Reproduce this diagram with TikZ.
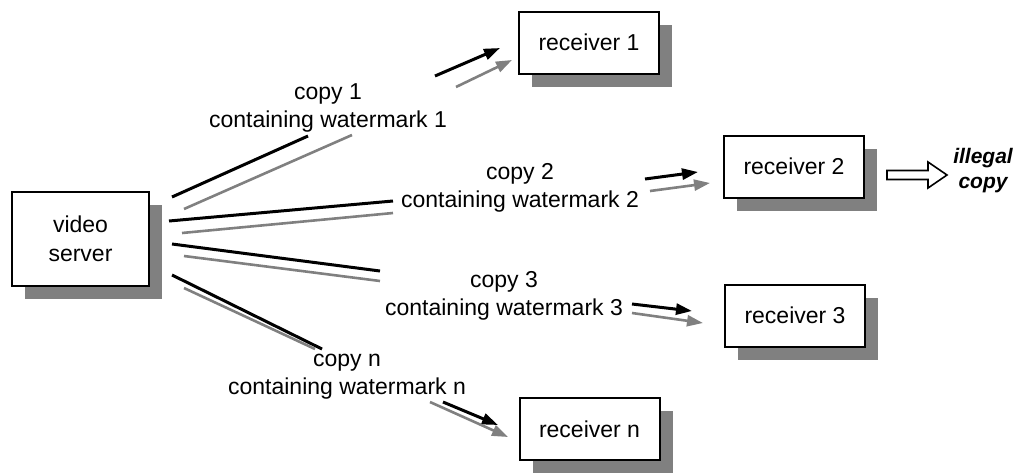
\documentclass[tikz,border=0pt]{standalone}
\usepackage{fontspec}
\setmainfont{Liberation Sans}
\usetikzlibrary{arrows.meta,shadows,calc}
\definecolor{shadowgray}{HTML}{808080}
\tikzset{
  box/.style={draw=black, line width=2pt, fill=white, minimum width=140pt, minimum height=62pt,
    inner sep=0pt, align=center, font=\fontsize{23}{29}\selectfont,
    drop shadow={shadow xshift=13pt, shadow yshift=-13pt, fill=shadowgray, opacity=1}},
  lbl/.style={align=center, font=\fontsize{23}{28}\selectfont, inner sep=0pt, anchor=base},
  blk/.style={line width=3pt, draw=black},
  gry/.style={line width=2.6pt, draw=shadowgray},
  tipk/.style={-{Triangle[length=16pt,width=11pt]}},
}
\begin{document}
\begin{tikzpicture}[x=1pt,y=-1pt]
\useasboundingbox (0,0) rectangle (1024,474);
% boxes
\node[box, minimum width=137pt, minimum height=94pt] (srv) at (80.5,239) {video\\server};
\node[box] (r1) at (589,42.5) {receiver 1};
\node[box] (r2) at (794,166.5) {receiver 2};
\node[box] (r3) at (795,315.5) {receiver 3};
\node[box] (rn) at (589.5,429) {receiver n};
% labels (base = baseline of last line)
\node[lbl] (l1) at (328,127) {copy 1\\containing watermark 1};
\node[lbl] (l2) at (520,207) {copy 2\\containing watermark 2};
\node[lbl] (l3) at (504,315) {copy 3\\containing watermark 3};
\node[lbl] (ln) at (347,394) {copy n\\containing watermark n};
\node[align=center, font=\fontsize{21}{25}\selectfont\bfseries\itshape, inner sep=0pt, anchor=base] (ill) at (983,188) {illegal\\copy};
% connector points
\coordinate (k1a) at (172,197); \coordinate (k1b) at (308,136); \coordinate (k1c) at (435,76); \coordinate (k1d) at (500,48);
\coordinate (g1a) at (184,209); \coordinate (g1b) at (352,135); \coordinate (g1c) at (456,87); \coordinate (g1d) at (512,60);
\coordinate (k2a) at (169,221); \coordinate (k2b) at (393,201); \coordinate (k2c) at (645,179); \coordinate (k2d) at (698,172);
\coordinate (g2a) at (182,233); \coordinate (g2b) at (393,213); \coordinate (g2c) at (650,191); \coordinate (g2d) at (710,183);
\coordinate (k3a) at (172,244); \coordinate (k3b) at (380,271); \coordinate (k3c) at (632,304); \coordinate (k3d) at (692,311);
\coordinate (g3a) at (184,256); \coordinate (g3b) at (380,281); \coordinate (g3c) at (632,313); \coordinate (g3d) at (703,323);
\coordinate (kna) at (172,275); \coordinate (knb) at (322,349); \coordinate (knc) at (443,402); \coordinate (knd) at (498,425);
\coordinate (gna) at (184,288); \coordinate (gnb) at (315,349); \coordinate (gnc) at (430,402); \coordinate (gnd) at (508,437);
% connectors
\draw[blk] (k1a) -- (k1b); \draw[blk,tipk] (k1c) -- (k1d);
\draw[gry] (g1a) -- (g1b); \draw[gry,tipk] (g1c) -- (g1d);
\draw[blk] (k2a) -- (k2b); \draw[blk,tipk] (k2c) -- (k2d);
\draw[gry] (g2a) -- (g2b); \draw[gry,tipk] (g2c) -- (g2d);
\draw[blk] (k3a) -- (k3b); \draw[blk,tipk] (k3c) -- (k3d);
\draw[gry] (g3a) -- (g3b); \draw[gry,tipk] (g3c) -- (g3d);
\draw[blk] (kna) -- (knb); \draw[blk,tipk] (knc) -- (knd);
\draw[gry] (gna) -- (gnb); \draw[gry,tipk] (gnc) -- (gnd);
% hollow arrow to illegal copy
\coordinate (ia) at (887,175);
\draw[line width=1.6pt, fill=white] (ia) ++(0,-4.5) -- ++(41,0) -- ++(0,-8.5) -- (947,175) -- (928,188) -- ++(0,-8.5) -- ++(-41,0) -- cycle;
\end{tikzpicture}
\end{document}
